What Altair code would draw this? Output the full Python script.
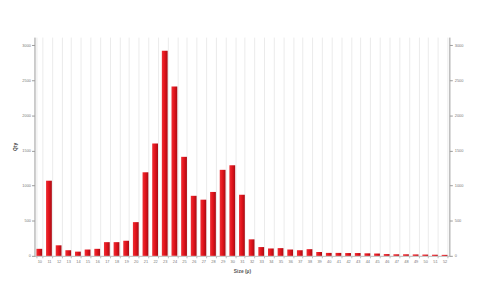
import altair as alt
import pandas as pd

labels = [str(v) for v in range(10, 53)]
counts = [100, 1070, 150, 80, 60, 90, 100, 195, 195, 215,
          480, 1190, 1600, 2920, 2410, 1410, 855, 800, 910, 1225,
          1290, 870, 235, 125, 105, 110, 90, 80, 95, 55,
          42, 42, 40, 40, 36, 33, 25, 22, 22, 20,
          18, 16, 14]
y_ticks = [0, 500, 1000, 1500, 2000, 2500, 3000]

df = pd.DataFrame({"bin": labels, "count": counts})

grad = alt.Gradient(
    gradient="linear", x1=0, x2=1, y1=0, y2=0,
    stops=[alt.GradientStop(offset=0, color="#ec3036"),
           alt.GradientStop(offset=0.45, color="#e5141c"),
           alt.GradientStop(offset=1, color="#a80c14")])

xenc = alt.X("bin:N", sort=labels, title="Size (µ)",
             scale=alt.Scale(paddingInner=0.4, paddingOuter=0.2),
             axis=alt.Axis(labelAngle=0, labelFontSize=4, labelColor="#777",
                           tickBand="extent", grid=True, gridColor="#ebebeb",
                           domainColor="#bbb", tickColor="#bbb", tickSize=2,
                           labelPadding=2, titleFontSize=5, titleColor="#555",
                           titlePadding=5))

yscale = alt.Scale(domain=[0, 3115], nice=False)

bars = alt.Chart(df).mark_bar(color=grad).encode(
    x=xenc,
    y=alt.Y("count:Q", scale=yscale, title="Qty",
            axis=alt.Axis(values=y_ticks, format="d", grid=False,
                          labelFontSize=4, labelColor="#777",
                          domainColor="#999", tickColor="#999", tickSize=3,
                          labelPadding=1, titleFontSize=5, titleColor="#444",
                          titlePadding=4))
)

right = alt.Chart(df).mark_bar(opacity=0).encode(
    x=alt.X("bin:N", sort=labels),
    y=alt.Y("count:Q", scale=yscale,
            axis=alt.Axis(orient="right", values=y_ticks, format="d",
                          grid=False, title=None, labelFontSize=4,
                          labelColor="#777", domainColor="#999",
                          tickColor="#999", tickSize=3, labelPadding=2))
)

chart = alt.layer(bars, right).resolve_axis(y="independent").properties(
    width=423, height=223,
    autosize=alt.AutoSizeParams(type="none"),
    padding={"left": 27, "top": 27, "right": 20, "bottom": 25},
    background="white"
).configure_view(stroke=None).configure_axis(labelFont="Liberation Sans",
                                              titleFont="Liberation Sans")

chart.save("out.html", embed_options={"renderer": "svg", "actions": False})
